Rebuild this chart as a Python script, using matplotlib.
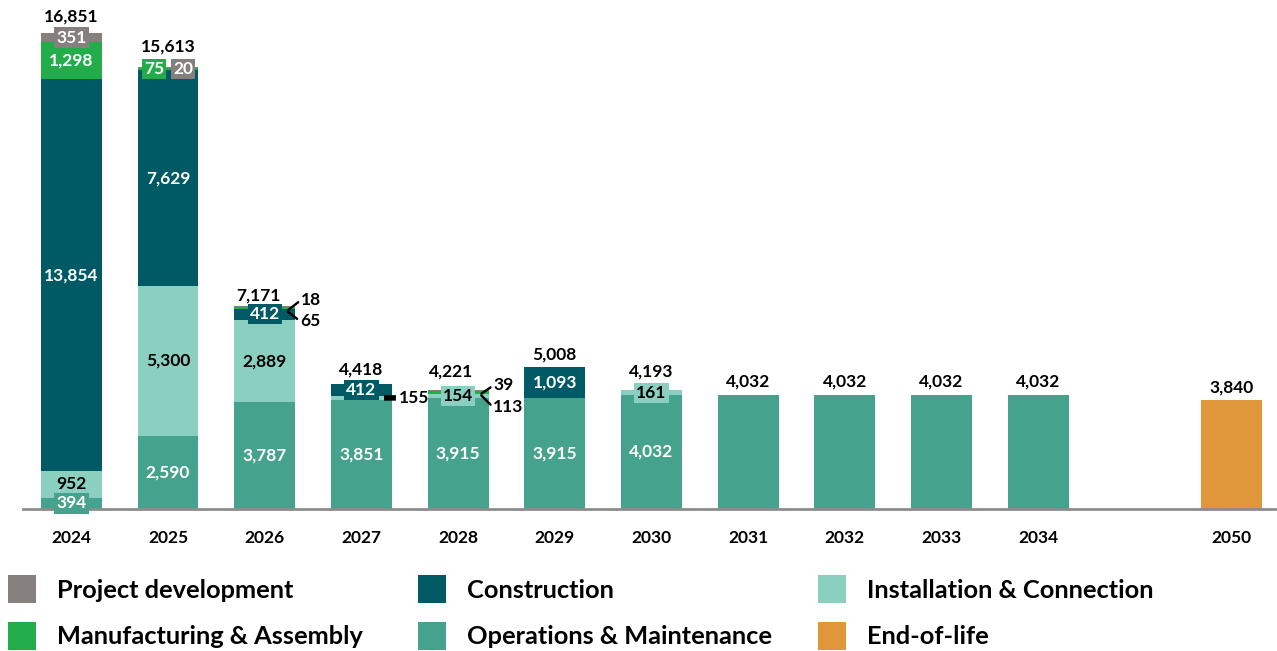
import matplotlib.pyplot as plt
from matplotlib.patches import Rectangle

plt.rcParams['font.family'] = ['Lato', 'DejaVu Sans']
plt.rcParams['font.weight'] = 'bold'

years = ['2024', '2025', '2026', '2027', '2028', '2029', '2030',
         '2031', '2032', '2033', '2034', '2050']
# stacked from the bottom up
om = [394, 2590, 3787, 3851, 3915, 3915, 4032, 4032, 4032, 4032, 4032, 0]
install = [952, 5300, 2889, 155, 154, 0, 161, 0, 0, 0, 0, 0]
constr = [13854, 7629, 412, 412, 0, 1093, 0, 0, 0, 0, 0, 0]
manuf = [1298, 75, 65, 0, 113, 0, 0, 0, 0, 0, 0, 0]
projdev = [351, 20, 18, 0, 39, 0, 0, 0, 0, 0, 0, 0]
eol = [0, 0, 0, 0, 0, 0, 0, 0, 0, 0, 0, 3840]
totals = [16851, 15613, 7171, 4418, 4221, 5008, 4193, 4032, 4032, 4032, 4032, 3840]

c_pd = '#857f7e'
c_con = '#005a66'
c_ins = '#8acfc0'
c_man = '#22ad4a'
c_om = '#45a28c'
c_eol = '#e0973a'

series = [
    ('Operations & Maintenance', om, c_om, 'white'),
    ('Installation & Connection', install, c_ins, 'black'),
    ('Construction', constr, c_con, 'white'),
    ('Manufacturing & Assembly', manuf, c_man, 'white'),
    ('Project development', projdev, c_pd, 'white'),
    ('End-of-life', eol, c_eol, 'white'),
]

# 2050 sits two slots after 2034
xpos = list(range(11)) + [12]

fig = plt.figure(figsize=(12.77, 6.51), dpi=100)
ax = fig.add_axes([23 / 1277, 1 - 509 / 651, 1 - 23 / 1277, 509 / 651])

fs = 12.5
PT = 0.72  # px -> points at 100 dpi
bottoms = [0] * len(years)
# small segments that get a leader line: (year, series) -> (dx px, dy px), dy down is +
callouts = {('2026', 'Project development'): (14, -11),
            ('2026', 'Manufacturing & Assembly'): (13, 10),
            ('2028', 'Project development'): (13, -9),
            ('2028', 'Manufacturing & Assembly'): (13, 13),
            ('2027', 'Installation & Connection'): (16, 0)}
# side-by-side boxes for 2025's tiny top segments
side = {('2025', 'Manufacturing & Assembly'): -0.145,
        ('2025', 'Project development'): 0.155}

for name, vals, col, tcol in series:
    ax.bar(xpos, vals, width=0.63, bottom=bottoms, color=col, linewidth=0)
    for i, v in enumerate(vals):
        if v == 0:
            continue
        yc = bottoms[i] + v / 2
        key = (years[i], name)
        txt = f'{v:,}'
        if name == 'End-of-life' or (years[i] in ('2031', '2032', '2033', '2034')):
            pass
        elif key in callouts:
            dx, dy = callouts[key]
            if dy == 0:
                ax.annotate(txt, xy=(xpos[i] + 0.22, yc), xytext=(dx * PT, 0),
                            textcoords='offset points', ha='left', va='center',
                            fontsize=fs, color='black', zorder=5,
                            arrowprops=dict(arrowstyle='-', lw=4, color='black',
                                            shrinkA=0, shrinkB=1,
                                            capstyle='butt', relpos=(0, 0.5)))
            else:
                # lines start from the seam between the small top segments
                anchor = totals[i] - 170
                ax.annotate(txt, xy=(xpos[i] + 0.23, anchor),
                            xytext=(dx * PT, -dy * PT),
                            textcoords='offset points', ha='left', va='center',
                            fontsize=fs, color='black', zorder=5,
                            arrowprops=dict(arrowstyle='-', lw=1.7, color='black',
                                            shrinkA=0, shrinkB=1,
                                            relpos=(0, 0.5)))
        elif key in side:
            ax.text(xpos[i] + side[key], totals[i] - 60,
                    txt, ha='center', va='center', fontsize=fs, color=tcol,
                    bbox=dict(boxstyle='square,pad=0.12', fc=col, ec='none'))
        elif v >= 900:
            ax.text(xpos[i], yc, txt, ha='center', va='center', fontsize=fs, color=tcol)
        else:
            ax.text(xpos[i], yc, txt, ha='center', va='center', fontsize=fs, color=tcol,
                    bbox=dict(boxstyle='square,pad=0.12', fc=col, ec='none'))
    bottoms = [b + v for b, v in zip(bottoms, vals)]

# totals above the bars, nudged up (px) where boxes sit on top
nudge = {'2024': 3, '2025': 8, '2026': -2, '2027': 2, '2028': 5, '2030': 6}
xshift = {'2026': -0.06, '2028': -0.07}
for i, t in enumerate(totals):
    ax.annotate(f'{t:,}', xy=(xpos[i] + xshift.get(years[i], 0), bottoms[i]),
                xytext=(0, (5 + nudge.get(years[i], 0)) * PT), textcoords='offset points',
                ha='center', va='bottom', fontsize=fs, color='black')

ax.set_xlim(-0.5, 12.47)
ax.set_ylim(0, 18000)
ax.set_xticks(xpos)
ax.set_xticklabels(years)
ax.tick_params(axis='x', length=0, pad=15, labelsize=fs)
ax.set_yticks([])
for s in ['top', 'right', 'left']:
    ax.spines[s].set_visible(False)
ax.spines['bottom'].set_color('#8c8c8c')
ax.spines['bottom'].set_linewidth(2)
ax.patch.set_alpha(0)

# legend, laid out as in the report
legend_items = [
    ('Project development', c_pd, 8, 589),
    ('Construction', c_con, 418, 589),
    ('Installation & Connection', c_ins, 818, 589),
    ('Manufacturing & Assembly', c_man, 8, 636),
    ('Operations & Maintenance', c_om, 418, 636),
    ('End-of-life', c_eol, 818, 636),
]
W, H = 1277, 651
for label, col, lx, ly in legend_items:
    fig.patches.append(Rectangle((lx / W, 1 - (ly + 14) / H), 28 / W, 28 / H,
                                 transform=fig.transFigure, fc=col, ec='none'))
    fig.text((lx + 49) / W, 1 - (ly + 1) / H, label, ha='left', va='center',
             fontsize=18.3, color='black')

fig.savefig('out.png', dpi=100)
